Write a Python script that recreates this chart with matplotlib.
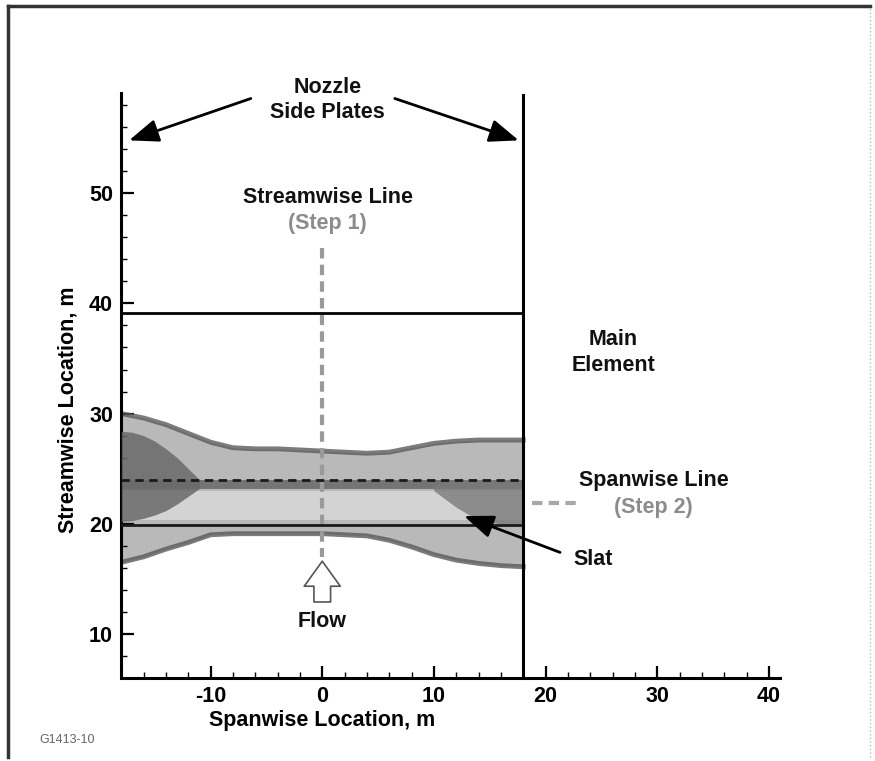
import matplotlib
matplotlib.use('Agg')
import matplotlib.pyplot as plt
from matplotlib.ticker import MultipleLocator, FixedLocator
from matplotlib.lines import Line2D

# ---------------- data ----------------
env_x = [-18, -16, -14, -12, -10, -8, -6, -4, -2, 0, 2, 4, 6, 8, 10, 12, 14, 16, 18]
env_upper = [30.0, 29.6, 29.0, 28.2, 27.4, 26.9, 26.8, 26.8, 26.7, 26.6, 26.5, 26.4, 26.5, 26.9, 27.3, 27.5, 27.6, 27.6, 27.6]
env_lower = [16.5, 17.0, 17.7, 18.3, 19.0, 19.1, 19.1, 19.1, 19.1, 19.1, 19.0, 18.9, 18.5, 17.9, 17.2, 16.7, 16.4, 16.2, 16.1]

blob_x = [-18, -17, -16, -15, -14, -13, -12, -11]
blob_upper = [28.4, 28.3, 28.0, 27.5, 26.8, 26.0, 25.0, 24.0]
blob_lower = [20.2, 20.3, 20.5, 20.8, 21.2, 21.8, 22.5, 23.2]

right_x = [10, 12, 14, 16, 18]
right_upper = [23.6, 24.0, 24.0, 24.0, 24.0]
right_lower = [23.0, 21.5, 20.3, 20.0, 20.0]

stripe_band = [23.2, 24.0]
core_band = [20.3, 23.0]

plate_x = [-18, 18]
main_element_y = 39.1
slat_upper_y = 24.0
slat_lower_y = 19.9
streamwise_line_x = 0
streamwise_line_y = [45.0, 17.0]
spanwise_line_y = 21.9
spanwise_line_x = [18.8, 23.0]

x_major = [-10, 0, 10, 20, 30, 40]
y_major = [10, 20, 30, 40, 50]
x_lim = (-18, 41)
y_lim = (6, 59.1)

FONT = 'Liberation Sans'
plt.rcParams['font.family'] = [FONT, 'DejaVu Sans']
plt.rcParams['font.weight'] = 'bold'

fig = plt.figure(figsize=(8.75, 7.61), dpi=100)
ax = fig.add_axes([121.3 / 875, 1 - 678 / 761, (780 - 121.3) / 875, (678 - 93) / 761])
ax.set_xlim(*x_lim)
ax.set_ylim(*y_lim)

# ----- contour-like band -----
ax.fill_between(env_x, env_lower, env_upper, color='#b9b9b9', lw=0, zorder=1)
ax.plot(env_x, env_upper, color='#5a5a5a', lw=3.5, alpha=0.8, zorder=2)
ax.plot(env_x, env_lower, color='#5a5a5a', lw=3.5, alpha=0.8, zorder=2)
ax.fill_between([env_x[0], env_x[-1]], [core_band[0]] * 2, [core_band[1]] * 2,
                color='#d3d3d3', lw=0, zorder=2)
ax.fill_between([env_x[0], env_x[-1]], [stripe_band[0]] * 2, [stripe_band[1]] * 2,
                color='#747474', lw=0, zorder=2)
ax.fill_between(blob_x, blob_lower, blob_upper, color='#6a6a6a', lw=0, zorder=3, alpha=0.85)
ax.fill_between(right_x, right_lower, right_upper, color='#7a7a7a', lw=0, zorder=3, alpha=0.8)

# slat lines
ax.plot(plate_x, [slat_upper_y] * 2, color='#1a1a1a', lw=2, ls=(0, (3, 2)), zorder=5)
ax.plot(plate_x, [slat_lower_y] * 2, color='#1a1a1a', lw=2, zorder=5)

# main element line and side plate
ax.plot(plate_x, [main_element_y] * 2, color='black', lw=2, zorder=5)
ax.plot([plate_x[1]] * 2, [y_lim[0], 58.9], color='black', lw=2.2, zorder=5, clip_on=False)

# gray measurement lines
ax.plot([streamwise_line_x] * 2, streamwise_line_y, color='#9a9a9a', lw=3,
        ls=(0, (2.5, 1.5)), zorder=4)
ax.plot(spanwise_line_x, [spanwise_line_y] * 2, color='#a8a8a8', lw=3,
        ls=(0, (2.5, 1.5)), zorder=4, clip_on=False)

# ----- annotations -----
FS = 15.5
tkw = dict(fontsize=FS, fontweight='bold', ha='center', va='center', color='#111111')
ax.text(0.5, 59.6, 'Nozzle', clip_on=False, **tkw)
ax.text(0.5, 57.3, 'Side Plates', clip_on=False, **tkw)
ax.text(0.5, 49.6, 'Streamwise Line', **tkw)
ax.text(0.5, 47.3, '(Step 1)', **{**tkw, 'color': '#8c8c8c'})
ax.text(26.1, 36.7, 'Main', **tkw)
ax.text(26.1, 34.4, 'Element', **tkw)
ax.text(29.7, 23.9, 'Spanwise Line', **tkw)
ax.text(29.7, 21.5, '(Step 2)', **{**tkw, 'color': '#8c8c8c'})
ax.text(24.3, 16.8, 'Slat', **tkw)
ax.text(0.0, 11.1, 'Flow', **tkw)

akw = dict(arrowstyle='-|>,head_length=0.9,head_width=0.35', color='black', lw=2,
           shrinkA=0, shrinkB=0, mutation_scale=20)
ax.annotate('', xy=(-17.3, 54.8), xytext=(-6.4, 58.6), arrowprops=akw, annotation_clip=False)
ax.annotate('', xy=(17.6, 54.8), xytext=(6.5, 58.6), arrowprops=akw, annotation_clip=False)
ax.annotate('', xy=(12.7, 20.7), xytext=(21.3, 17.4), arrowprops=akw, zorder=6)

ax.annotate('', xy=(0, 16.6), xytext=(0, 12.9),
            arrowprops=dict(arrowstyle='simple,head_length=0.9,head_width=1.3,tail_width=0.6',
                            fc='white', ec='#555555', lw=1.2, shrinkA=0, shrinkB=0,
                            mutation_scale=20), zorder=6)

# ----- axes styling -----
for s in ['top', 'right']:
    ax.spines[s].set_visible(False)
for s in ['left', 'bottom']:
    ax.spines[s].set_linewidth(2.2)
ax.xaxis.set_major_locator(FixedLocator(x_major))
ax.yaxis.set_major_locator(FixedLocator(y_major))
ax.xaxis.set_minor_locator(MultipleLocator(2))
ax.yaxis.set_minor_locator(MultipleLocator(2))
ax.tick_params(which='major', direction='in', length=9, width=1.6, labelsize=FS, pad=6)
ax.tick_params(which='minor', direction='in', length=4.5, width=1.0)
ax.set_xticklabels([str(v) for v in x_major], fontweight='bold')
ax.set_yticklabels([str(v) for v in y_major], fontweight='bold')

ax.text(0.0, -0.072, 'Spanwise Location, m', transform=ax.get_xaxis_transform(),
        fontsize=FS, fontweight='bold', ha='center', va='center')
fig.text(68 / 875, 1 - 410 / 761, 'Streamwise Location, m', rotation=90,
         fontsize=FS, fontweight='bold', ha='center', va='center')
fig.text(67 / 875, 1 - 740 / 761, 'G1413-10', fontsize=9, color='#666666',
         ha='center', va='center', fontweight='normal')

# figure frame
fig.add_artist(Line2D([8 / 875, 8 / 875], [0.005, 1 - 6 / 761], color='#333333', lw=2.5,
                      transform=fig.transFigure))
fig.add_artist(Line2D([8 / 875, 870 / 875], [1 - 6 / 761, 1 - 6 / 761], color='#333333', lw=2.5,
                      transform=fig.transFigure))
fig.add_artist(Line2D([870 / 875, 870 / 875], [0.005, 1 - 6 / 761], color='#bbbbbb', lw=1,
                      ls=':', transform=fig.transFigure))

fig.savefig('out.png', dpi=100)
